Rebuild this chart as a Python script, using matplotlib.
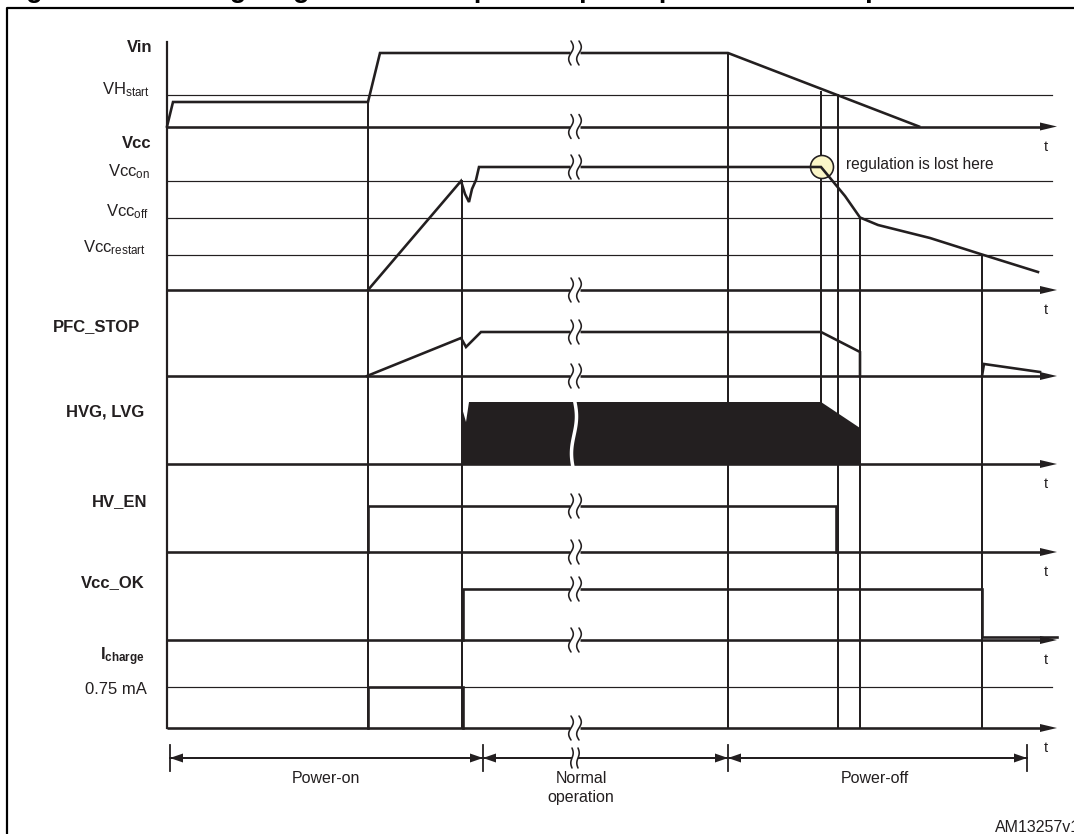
import numpy as np
import matplotlib.pyplot as plt
from matplotlib.patches import Circle, Polygon

plt.rcParams['font.family'] = ['Liberation Sans', 'DejaVu Sans']
plt.rcParams['mathtext.fontset'] = 'custom'
plt.rcParams['mathtext.rm'] = 'Liberation Sans'
plt.rcParams['mathtext.bf'] = 'Liberation Sans:bold'
plt.rcParams['mathtext.it'] = 'Liberation Sans:italic'

INK = '#231f20'

# drawing units: x = time position, y = trace position (downwards)
x_axis = 167
x_arrow = 1057
x_thr_end = 1052
x_break = 575

# vertical time markers
t_marks = [368, 462, 728, 821, 838, 860, 982]
t_mark_top = [101, 181, 53, 92, 95, 218, 256]
t_mark_bot = [728, 728, 728, 402, 728, 728, 728]

# zero level of each trace (with arrow) and whether a "t" is written under it
baselines = [126.5, 290, 376, 464, 552, 640, 728]
baseline_t = [True, True, False, True, True, True, True]

# threshold lines
thr_y = [95, 181, 217.5, 254.5, 687]

row_labels = ['Vin', 'Vcc', 'PFC_STOP', 'HVG, LVG', 'HV_EN', 'Vcc_OK',
              r'$\mathbf{I}_{\mathbf{charge}}$']
row_label_x = [152, 152, 140, 144, 147, 145, 145]
row_label_y = [47, 143, 327, 412, 502, 583, 657]

thr_labels = [r'VH$_{\mathrm{start}}$', r'Vcc$_{\mathrm{on}}$', r'Vcc$_{\mathrm{off}}$',
              r'Vcc$_{\mathrm{restart}}$', '0.75 mA']
thr_label_x = [150, 150, 149, 146, 147]
thr_label_y = [90, 172, 212, 248, 690]

# traces
vin_t = [167, 173, 368, 380, 728, 919]
vin_y = [126.5, 102, 102, 53, 53, 126.5]

vcc_t = [368, 461, 465, 469, 472, 476, 479, 821, 845, 860, 878, 930, 982, 1038]
vcc_y = [290, 181, 194, 202, 189, 180, 167, 167, 196, 217.5, 225, 238, 254.5, 272]

pfc_t = [367, 461, 466, 481, 821, 860, 860]
pfc_y = [376, 338, 347, 332, 332, 352, 376]
pfc2_t = [982, 984, 1040]
pfc2_y = [376, 364, 372]

gate_t = [462, 462, 466, 469, 821, 860, 860]
gate_y = [464, 408, 422, 402, 402, 428, 464]

hven_t = [368, 368, 836, 836]
hven_y = [552, 506, 506, 552]

vccok_t = [463, 463, 982, 982, 1057]
vccok_y = [640, 589, 589, 637, 637]

ich_t = [368, 368, 463, 463]
ich_y = [728, 687, 687, 728]

# where the break symbol cuts a trace
break_y = [53, 126.5, 167, 290, 332, 376, 506, 552, 589, 640, 728]

# regulation lost marker
lost_t, lost_y = 822, 167

# phases along the bottom
phase_edges = [170, 483, 728, 1027]
phase_names = ['Power-on', 'Normal\noperation', 'Power-off']
phase_text_x = [326, 581, 875]
bar_y = 758


def px(v):
    return v * 0.72


fig = plt.figure(figsize=(10.74, 8.34), dpi=100)
ax = fig.add_axes([0, 0, 1, 1])
ax.set_xlim(0, 1074)
ax.set_ylim(834, 0)
ax.axis('off')

# outer frame and cut title (only descenders show)
ax.plot([7, 7, 1090], [900, 7.5, 7.5], color='black', lw=px(2.2), solid_capstyle='butt')
ax.text(2, 3, 'Figure 45.', fontsize=19.5, fontweight='bold', va='bottom', ha='left')
ax.text(158, 3, 'Timing diagram: normal power-up and power-down sequences',
        fontsize=19.5, fontweight='bold', va='bottom', ha='left')

# left axis
ax.plot([x_axis, x_axis], [42, 728], color=INK, lw=px(2.2))

# thresholds
for y in thr_y:
    ax.plot([x_axis, x_thr_end], [y, y], color=INK, lw=px(1.2))

# baselines with arrow heads
for y, has_t in zip(baselines, baseline_t):
    ax.plot([x_axis, x_arrow - 14], [y, y], color=INK, lw=px(2.6), solid_capstyle='butt')
    ax.add_patch(Polygon([[x_arrow - 17, y - 4], [x_arrow, y], [x_arrow - 17, y + 4]],
                         closed=True, color=INK, lw=0))
    if has_t:
        ax.text(1046, y + 20, 't', fontsize=10.5, ha='center', va='center', color=INK)

# time markers
for x, y0, y1 in zip(t_marks, t_mark_top, t_mark_bot):
    ax.plot([x, x], [y0, y1], color=INK, lw=px(2.0))

# gate drive fill
ax.add_patch(Polygon(np.column_stack([gate_t, gate_y]), closed=True, color=INK, lw=0, zorder=3))

# regulation lost circle
ax.add_patch(Circle((lost_t, lost_y), 11.5, facecolor='#fbf6c8', edgecolor=INK, lw=px(1.6), zorder=3))
ax.text(846, 164, 'regulation is lost here', fontsize=11.2, va='center', ha='left', color=INK)

# traces
sig = dict(color=INK, lw=px(2.6), zorder=4, solid_joinstyle='miter')
ax.plot(vin_t, vin_y, **sig)
ax.plot(vcc_t, vcc_y, **sig)
ax.plot(pfc_t, pfc_y, **sig)
ax.plot(pfc2_t, pfc2_y, **sig)
ax.plot(hven_t, hven_y, **sig)
ax.plot(vccok_t, vccok_y, **sig)
ax.plot(ich_t, ich_y, **sig)


def wave(x, y, h, amp, color, lw, z):
    yy = np.linspace(y - h / 2, y + h / 2, 40)
    xx = x + amp * np.sin((yy - (y - h / 2)) / h * 2 * np.pi)
    ax.plot(xx, yy, color=color, lw=lw, zorder=z, solid_capstyle='round')


# break symbols
for y in break_y:
    ax.plot([x_break - 5, x_break + 5], [y, y], color='white', lw=px(5), zorder=5,
            solid_capstyle='butt')
    wave(x_break - 4, y, 24, 2.3, INK, px(1.6), 6)
    wave(x_break + 4, y, 24, 2.3, INK, px(1.6), 6)
# break through the gate fill
yy = np.linspace(398, 472, 60)
ax.plot(x_break - 1 + 2.5 * np.sin((yy - 398) / 74 * 2 * np.pi), yy, color='white',
        lw=px(3.5), zorder=5)

# labels
for s, x, y in zip(row_labels, row_label_x, row_label_y):
    ax.text(x, y, s, fontsize=12, fontweight='bold', ha='right', va='center', color=INK)
for s, x, y in zip(thr_labels, thr_label_x, thr_label_y):
    ax.text(x, y, s, fontsize=12, ha='right', va='center', color=INK)

# phase bar
ax.plot([phase_edges[0], x_break - 4], [bar_y, bar_y], color=INK, lw=px(2.0))
ax.plot([x_break + 4, phase_edges[-1]], [bar_y, bar_y], color=INK, lw=px(2.0))
wave(x_break - 3, bar_y, 20, 1.2, INK, px(1.6), 6)
wave(x_break + 3, bar_y, 20, 1.2, INK, px(1.6), 6)
for x in phase_edges:
    ax.plot([x, x], [745, 771], color=INK, lw=px(1.8))
for a, b in zip(phase_edges[:-1], phase_edges[1:]):
    ax.add_patch(Polygon([[a, bar_y], [a + 13, bar_y - 4.5], [a + 13, bar_y + 4.5]],
                         closed=True, color=INK, lw=0))
    ax.add_patch(Polygon([[b, bar_y], [b - 13, bar_y - 4.5], [b - 13, bar_y + 4.5]],
                         closed=True, color=INK, lw=0))
for s, x in zip(phase_names, phase_text_x):
    ax.text(x, 771, s, fontsize=11.5, ha='center', va='top', color=INK, linespacing=1.35)

ax.text(995, 828, 'AM13257v1', fontsize=11.5, ha='left', va='center', color=INK)

fig.savefig('out.png', dpi=100)
